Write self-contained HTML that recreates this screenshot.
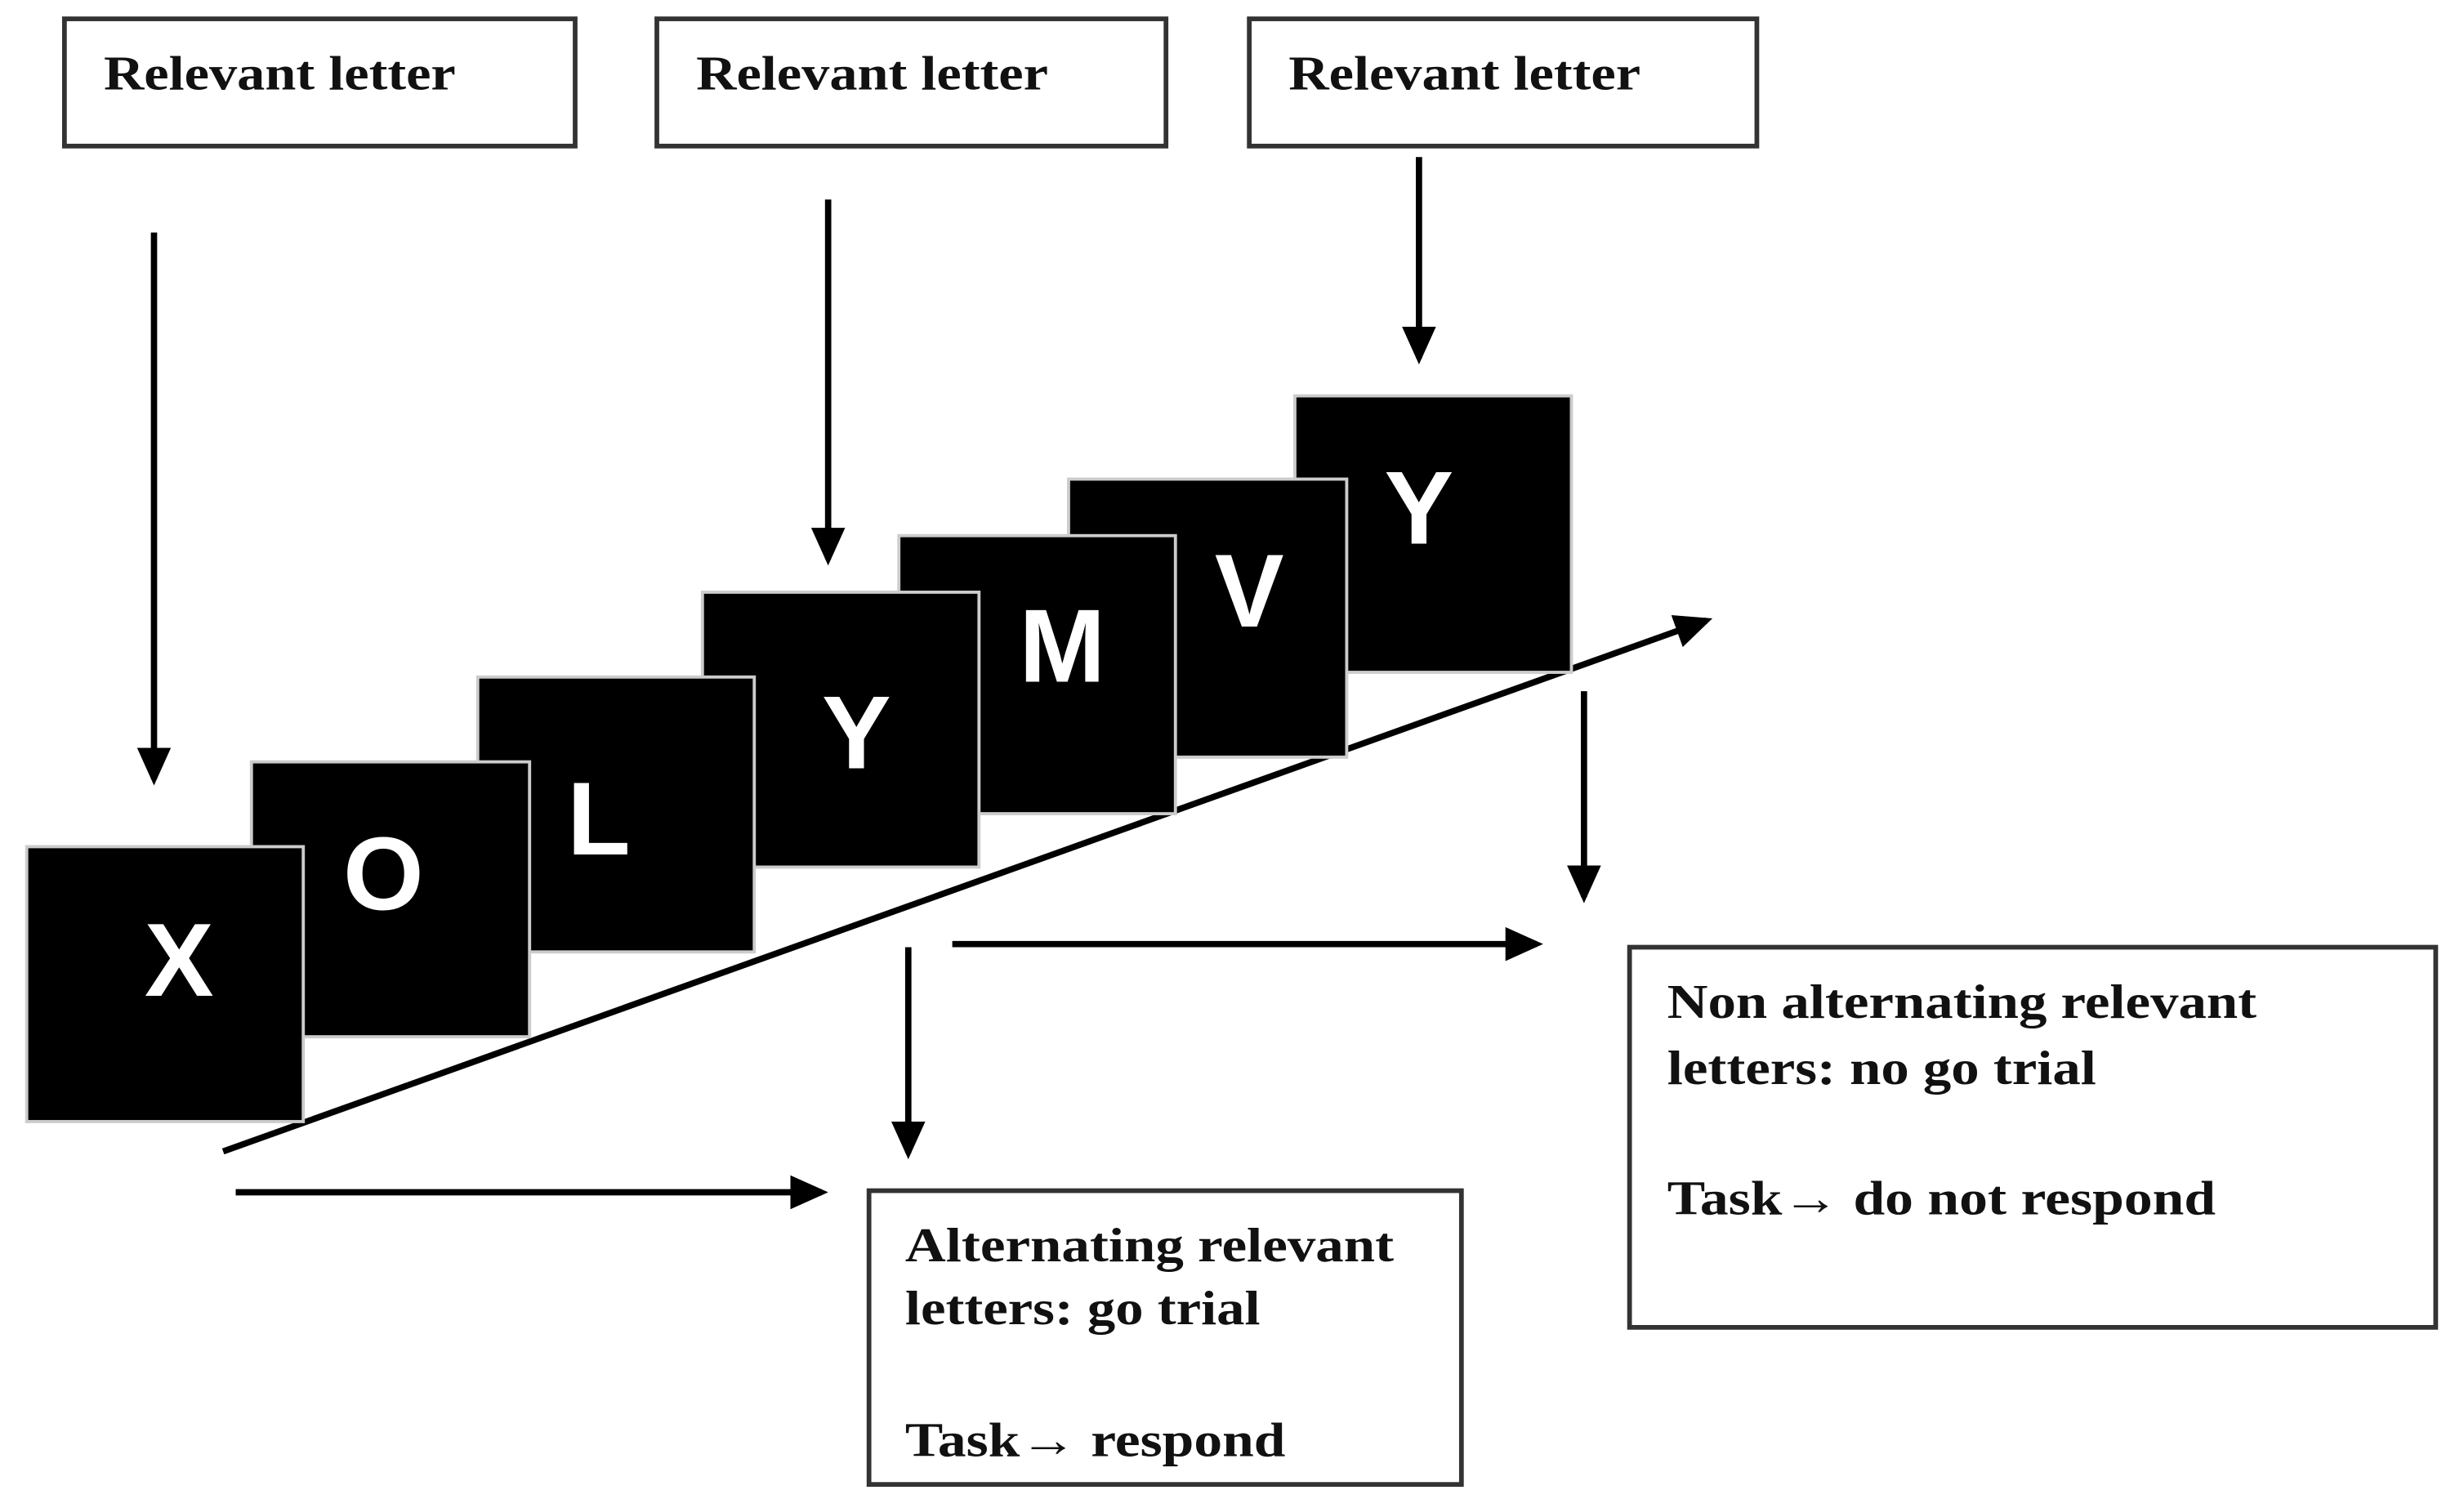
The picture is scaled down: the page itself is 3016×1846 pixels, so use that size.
<!DOCTYPE html>
<html><head><meta charset="utf-8">
<style>
html,body{margin:0;padding:0;background:#fff;}
svg{display:block;}
.t{font-family:"Liberation Serif",serif;font-weight:bold;font-size:31px;fill:#111;}
.L{font-family:"Liberation Sans",sans-serif;font-weight:bold;font-size:66px;fill:#fff;text-anchor:middle;}
</style></head>
<body>
<svg width="3016" height="1846" viewBox="0 0 1568 960" preserveAspectRatio="none" xmlns="http://www.w3.org/2000/svg">
<defs>
<marker id="ah" markerWidth="6" markerHeight="6" refX="5" refY="3" orient="auto" markerUnits="strokeWidth">
<path d="M0,0.3 L6,3 L0,5.7 z" fill="#000"/>
</marker>
</defs>
<rect width="1568" height="960" fill="#fff"/>
<g fill="#fff" stroke="#333" stroke-width="3">
<rect x="41" y="12" width="325" height="81"/>
<rect x="418" y="12" width="324" height="81"/>
<rect x="795" y="12" width="323" height="81"/>
<rect x="553" y="758" width="377" height="187"/>
<rect x="1037" y="603" width="513" height="242"/>
</g>
<text class="t" x="66" y="57" textLength="224" lengthAdjust="spacingAndGlyphs">Relevant letter</text>
<text class="t" x="443" y="57" textLength="224" lengthAdjust="spacingAndGlyphs">Relevant letter</text>
<text class="t" x="820" y="57" textLength="224" lengthAdjust="spacingAndGlyphs">Relevant letter</text>

<g stroke="#000" stroke-width="4" fill="none" marker-end="url(#ah)">
<line x1="98" y1="148" x2="98" y2="496"/>
<line x1="527" y1="127" x2="527" y2="356"/>
<line x1="903" y1="100" x2="903" y2="228"/>
<line x1="1008" y1="440" x2="1008" y2="571"/>
<line x1="606" y1="601" x2="978" y2="601"/>
<line x1="578" y1="603" x2="578" y2="734"/>
<line x1="150" y1="759" x2="523" y2="759"/>
<line x1="142" y1="733" x2="1086" y2="395"/>
</g>

<g stroke="#ccc" stroke-width="2" fill="#000">
<rect x="824" y="252" width="176" height="176"/>
<rect x="680" y="305" width="177" height="177"/>
<rect x="572" y="341" width="176" height="177"/>
<rect x="447" y="377" width="176" height="175"/>
<rect x="304" y="431" width="176" height="175"/>
<rect x="160" y="485" width="177" height="175"/>
<rect x="17" y="539" width="176" height="175"/>
</g>
<text class="L" x="114" y="634">X</text>
<text class="L" x="244" y="579">O</text>
<text class="L" x="381" y="544">L</text>
<text class="L" x="545" y="489">Y</text>
<text class="L" x="676" y="434">M</text>
<text class="L" x="795" y="399">V</text>
<text class="L" x="903" y="346">Y</text>

<text class="t" x="576" y="803" textLength="311" lengthAdjust="spacingAndGlyphs">Alternating relevant</text>
<text class="t" x="576" y="843" textLength="226" lengthAdjust="spacingAndGlyphs">letters: go trial</text>
<text class="t" x="576" y="927" textLength="242" lengthAdjust="spacingAndGlyphs">Task→ respond</text>
<text class="t" x="1061" y="648" textLength="375" lengthAdjust="spacingAndGlyphs">Non alternating relevant</text>
<text class="t" x="1061" y="690" textLength="273" lengthAdjust="spacingAndGlyphs">letters: no go trial</text>
<text class="t" x="1061" y="773" textLength="349" lengthAdjust="spacingAndGlyphs">Task→ do not respond</text>
</svg>
</body></html>
